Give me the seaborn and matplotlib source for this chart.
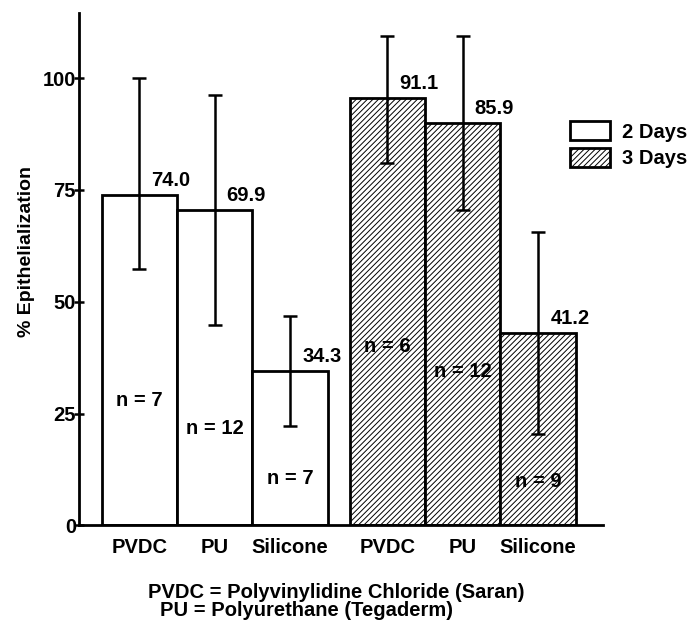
import matplotlib
matplotlib.use("Agg")
import matplotlib.pyplot as plt
from matplotlib.patches import Patch
import pandas as pd
import seaborn as sns

# values
categories = ["PVDC", "PU", "Silicone", "PVDC", "PU", "Silicone"]
days = ["2 Days", "2 Days", "2 Days", "3 Days", "3 Days", "3 Days"]
heights = [73.9, 70.4, 34.5, 95.5, 89.9, 43.1]
value_labels = ["74.0", "69.9", "34.3", "91.1", "85.9", "41.2"]
err_low = [57.3, 44.8, 22.2, 81.1, 70.4, 20.4]
err_high = [100.0, 96.3, 46.8, 109.5, 109.5, 65.5]
n_labels = ["n = 7", "n = 12", "n = 7", "n = 6", "n = 12", "n = 9"]
n_label_y = [28.0, 21.7, 10.5, 40.0, 34.5, 9.8]
y_ticks = [0, 25, 50, 75, 100]

GROUP_GAP = 0.29
HATCH = "//////"
FS = 14.5

df = pd.DataFrame({"material": categories, "day": days, "pct": heights,
                   "lo": err_low, "hi": err_high})
df["group"] = df["day"].map({"2 Days": 0, "3 Days": 1})
df["slot"] = df.groupby("day").cumcount()
df["x"] = df["group"] * (3 + GROUP_GAP) + df["slot"]

sns.set_style("ticks", {"axes.edgecolor": "black", "text.color": "black",
                        "xtick.color": "black", "ytick.color": "black",
                        "axes.labelcolor": "black"})
plt.rcParams["font.family"] = ["Liberation Sans", "DejaVu Sans"]
plt.rcParams["font.weight"] = "bold"
plt.rcParams["axes.labelweight"] = "bold"
plt.rcParams["hatch.linewidth"] = 0.7

fig = plt.figure(figsize=(6.95, 6.21), dpi=100)
ax = fig.add_axes([79 / 695, 1 - 525.3 / 621, 524 / 695, 512 / 621])

sns.barplot(data=df, x="x", y="pct", native_scale=True, width=1, color="white",
            saturation=1, edgecolor="black", linewidth=2, errorbar=None, ax=ax)

for patch, day in zip(ax.patches, df["day"]):
    if day == "3 Days":
        patch.set_hatch(HATCH)

ax.errorbar(df["x"], df["pct"], yerr=[df["pct"] - df["lo"], df["hi"] - df["pct"]],
            fmt="none", ecolor="black", elinewidth=1.8, capsize=5, capthick=1.8)

for x, h, lab in zip(df["x"], df["pct"], value_labels):
    ax.annotate(lab, (x + 0.42, h), xytext=(0, 6.5), textcoords="offset points",
                ha="center", va="baseline", fontsize=FS)

for x, y, lab in zip(df["x"], n_label_y, n_labels):
    ax.text(x, y, lab, ha="center", va="center", fontsize=FS)

ax.set_ylim(0, 114.5)
ax.set_xlim(-0.8, 6.15)
ax.set_yticks(y_ticks)
ax.set_xticks(df["x"])
ax.set_xticklabels(categories)
ax.tick_params(axis="x", length=0, pad=9, labelsize=FS)
ax.tick_params(axis="y", direction="inout", length=7.5, width=1.8, labelsize=FS, pad=-1.5)
sns.despine(ax=ax)
for s in ["left", "bottom"]:
    ax.spines[s].set_linewidth(2)
ax.set_xlabel("")
ax.set_ylabel("% Epithelialization", fontsize=14)
ax.yaxis.set_label_coords(-0.084, 0.535)

handles = [Patch(facecolor="white", edgecolor="black", linewidth=2, label="2 Days"),
           Patch(facecolor="white", edgecolor="black", linewidth=2, hatch=HATCH, label="3 Days")]
fig.legend(handles=handles, loc="upper left", bbox_to_anchor=(570 / 695, 1 - 121 / 621),
           frameon=False, fontsize=FS, handlelength=2.0, handleheight=1.1,
           handletextpad=0.6, labelspacing=0.3, borderpad=0, borderaxespad=0)

fig.text(336 / 695, 1 - 592 / 621, "PVDC = Polyvinylidine Chloride (Saran)",
         ha="center", va="center", fontsize=FS)
fig.text(307 / 695, 1 - 616 / 621, "PU = Polyurethane (Tegaderm)",
         ha="center", va="baseline", fontsize=FS)

fig.savefig("out.png", dpi=100)
